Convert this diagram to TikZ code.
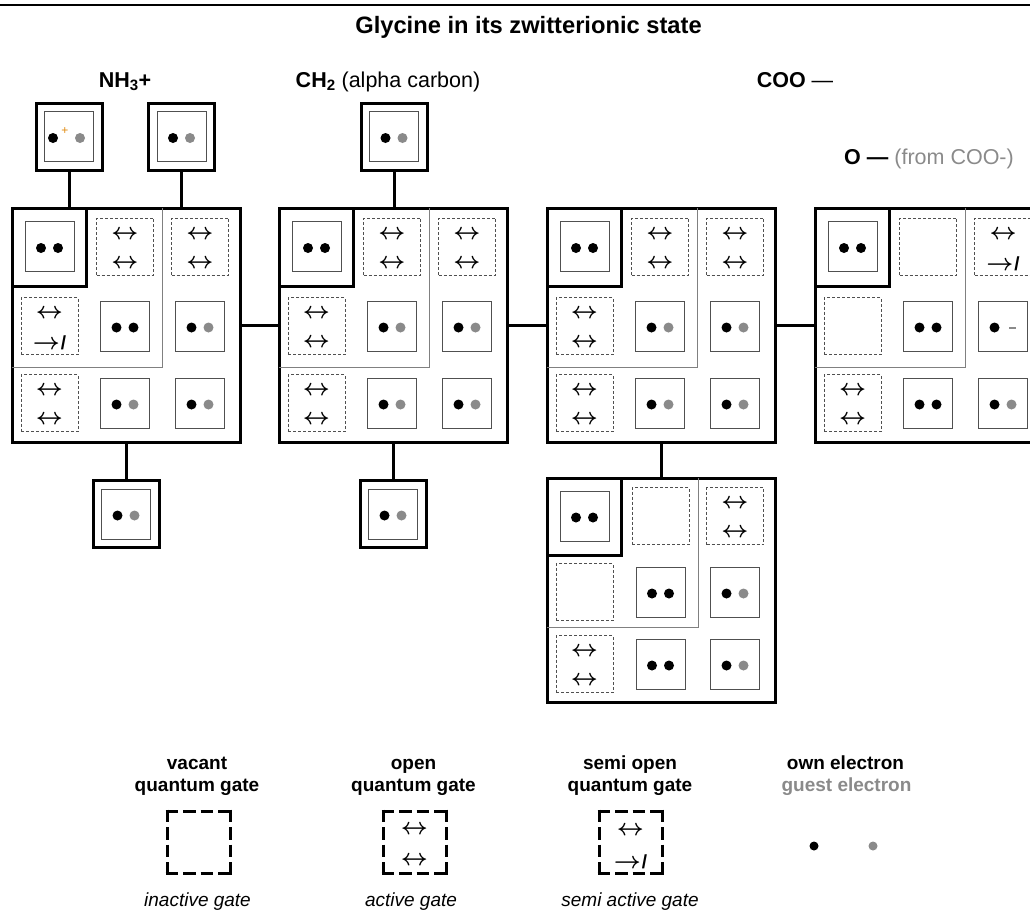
\RequirePackage{fix-cm}
\documentclass[tikz,border=0pt]{standalone}
\usepackage{fontspec}
\setmainfont{Liberation Sans}
\definecolor{guestgray}{HTML}{8A8A8A}
\definecolor{cellgray}{HTML}{505050}
\definecolor{sepgray}{HTML}{808080}
\definecolor{plusorange}{HTML}{E08A10}
\tikzset{
  blockbox/.style={draw=black, line width=3pt, minimum width=228pt, minimum height=234pt, inner sep=0pt, outer sep=0pt},
  blockboxs/.style={blockbox, minimum height=224pt},
  cornerbox/.style={draw=black, line width=3pt, minimum width=74pt, minimum height=78pt, inner sep=0pt, outer sep=0pt},
  solidcell/.style={draw=cellgray, line width=0.9pt, minimum width=49pt, minimum height=50pt, inner sep=0pt, outer sep=0pt},
  gatecell/.style={draw=cellgray, line width=0.8pt, dash pattern=on 3pt off 2pt, minimum width=57pt, minimum height=57pt, inner sep=0pt, outer sep=0pt},
  atomframe/.style={draw=black, line width=3pt, minimum width=66pt, minimum height=67pt, inner sep=0pt, outer sep=0pt},
  bond/.style={draw=black, line width=3pt},
  sepline/.style={draw=sepgray, line width=0.9pt},
  arrowtext/.style={inner sep=0pt, font=\boldmath\fontsize{23.5}{25}\selectfont},
  legendframe/.style={minimum width=63pt, minimum height=62pt, inner sep=0pt, outer sep=0pt},
  legenddash/.style={draw=black, line width=3pt, dash pattern=on 12.6pt off 5pt},
  heading/.style={font=\bfseries\fontsize{21.5}{26}\selectfont, inner sep=0pt, anchor=base},
  legendhead/.style={font=\bfseries\fontsize{19}{22}\selectfont, inner sep=0pt, anchor=base},
  legendfoot/.style={font=\itshape\fontsize{19}{22}\selectfont, inner sep=0pt, anchor=base},
  edot/.style={circle, inner sep=0pt, minimum size=10pt},
}
\newcommand\semislash{\hspace{1pt}{\bfseries\fontsize{19}{19}\selectfont /}}
\newcommand\pairbox[4]{%
  \node[solidcell] (#1) at (#2,#3) {};
  \fill[black] ([xshift=-8.5pt,yshift=-1.5pt]#1.center) circle[radius=5pt];
  \fill[#4] ([xshift=8.5pt,yshift=-1.5pt]#1.center) circle[radius=5pt];}
\newcommand\minusbox[3]{%
  \node[solidcell] (#1) at (#2,#3) {};
  \fill[black] ([xshift=-8.5pt,yshift=-1.5pt]#1.center) circle[radius=5pt];
  \draw[guestgray, line width=2pt] ([xshift=6pt,yshift=-1.5pt]#1.center) -- ([xshift=13pt,yshift=-1.5pt]#1.center);}
\newcommand\opengate[3]{%
  \node[gatecell] (#1) at (#2,#3) {};
  \node[arrowtext] (#1-up) at ([yshift=12pt]#1.center) {$\leftrightarrow$};
  \node[arrowtext] (#1-dn) at ([yshift=-17pt]#1.center) {$\leftrightarrow$};}
\newcommand\semigate[3]{%
  \node[gatecell] (#1) at (#2,#3) {};
  \node[arrowtext] (#1-up) at ([yshift=12pt]#1.center) {$\leftrightarrow$};
  \node[arrowtext] (#1-dn) at ([yshift=-17pt]#1.center) {$\rightarrow$\semislash};}
\newcommand\vacantgate[3]{\node[gatecell] (#1) at (#2,#3) {};}
\newcommand\legendbox[3]{%
  \node[legendframe] (#1) at (#2,#3) {};
  \draw[legenddash] ([xshift=-1.5pt]#1.north west) -- ([xshift=1.5pt]#1.north east);
  \draw[legenddash] ([xshift=-1.5pt]#1.south west) -- ([xshift=1.5pt]#1.south east);
  \draw[legenddash] ([yshift=1.5pt]#1.north west) -- ([yshift=-1.5pt]#1.south west);
  \draw[legenddash] ([yshift=1.5pt]#1.north east) -- ([yshift=-1.5pt]#1.south east);}
\begin{document}
\begin{tikzpicture}[x=1pt, y=-1pt]
\path[use as bounding box] (0,0) rectangle (1030,911);
\clip (0,0) rectangle (1030,911);
% top rule
\coordinate (ruleL) at (0,5);
\coordinate (ruleR) at (1030,5);
\draw[line width=2pt] (ruleL) -- (ruleR);
% title and headings
\node[font=\bfseries\fontsize{23.7}{28}\selectfont, inner sep=0pt, anchor=base] (title) at (528.5,33) {Glycine in its zwitterionic state};
\node[heading] (hN) at (125,87) {NH\textsubscript{3}+};
\node[heading] (hC) at (388,87) {CH\textsubscript{2} \mdseries (alpha carbon)};
\node[heading] (hCOO) at (795,87) {COO \mdseries —};
\node[heading] (hO) at (929,164) {O — \mdseries\textcolor{guestgray}{(from COO-)}};

% ---------- block 1 : NH3+ ----------
\begin{scope}[shift={(12,208)}]
  \node[blockbox] (b1) at (114,117) {};
  \draw[sepline] (150,0) -- (150,159) -- (0,159);
  \node[cornerbox] (b1k) at (37,39) {};
  \pairbox{b1c11}{37.5}{38.5}{black}
  \opengate{b1c12}{113}{38.5}
  \opengate{b1c13}{188}{38.5}
  \semigate{b1c21}{37.5}{118}
  \pairbox{b1c22}{113}{118}{black}
  \pairbox{b1c23}{188}{118}{guestgray}
  \opengate{b1c31}{37.5}{195}
  \pairbox{b1c32}{113}{195}{guestgray}
  \pairbox{b1c33}{188}{195}{guestgray}
\end{scope}
% ---------- block 2 : CH2 ----------
\begin{scope}[shift={(279,208)}]
  \node[blockbox] (b2) at (114,117) {};
  \draw[sepline] (150,0) -- (150,159) -- (0,159);
  \node[cornerbox] (b2k) at (37,39) {};
  \pairbox{b2c11}{37.5}{38.5}{black}
  \opengate{b2c12}{113}{38.5}
  \opengate{b2c13}{188}{38.5}
  \opengate{b2c21}{37.5}{118}
  \pairbox{b2c22}{113}{118}{guestgray}
  \pairbox{b2c23}{188}{118}{guestgray}
  \opengate{b2c31}{37.5}{195}
  \pairbox{b2c32}{113}{195}{guestgray}
  \pairbox{b2c33}{188}{195}{guestgray}
\end{scope}
% ---------- block 3 : C of COO ----------
\begin{scope}[shift={(547,208)}]
  \node[blockbox] (b3) at (114,117) {};
  \draw[sepline] (150,0) -- (150,159) -- (0,159);
  \node[cornerbox] (b3k) at (37,39) {};
  \pairbox{b3c11}{37.5}{38.5}{black}
  \opengate{b3c12}{113}{38.5}
  \opengate{b3c13}{188}{38.5}
  \opengate{b3c21}{37.5}{118}
  \pairbox{b3c22}{113}{118}{guestgray}
  \pairbox{b3c23}{188}{118}{guestgray}
  \opengate{b3c31}{37.5}{195}
  \pairbox{b3c32}{113}{195}{guestgray}
  \pairbox{b3c33}{188}{195}{guestgray}
\end{scope}
% ---------- block 4 : O- ----------
\begin{scope}[shift={(815,208)}]
  \node[blockbox] (b4) at (114,117) {};
  \draw[sepline] (150,0) -- (150,159) -- (0,159);
  \node[cornerbox] (b4k) at (37,39) {};
  \pairbox{b4c11}{37.5}{38.5}{black}
  \vacantgate{b4c12}{113}{38.5}
  \semigate{b4c13}{188}{38.5}
  \vacantgate{b4c21}{37.5}{118}
  \pairbox{b4c22}{113}{118}{black}
  \minusbox{b4c23}{188}{118}
  \opengate{b4c31}{37.5}{195}
  \pairbox{b4c32}{113}{195}{black}
  \pairbox{b4c33}{188}{195}{guestgray}
\end{scope}
% ---------- block 5 : O of COO ----------
\begin{scope}[shift={(547,478)}]
  \node[blockboxs] (b5) at (114,112) {};
  \draw[sepline] (151,0) -- (151,149) -- (0,149);
  \node[cornerbox, minimum height=77pt] (b5k) at (37,38.5) {};
  \pairbox{b5c11}{37.5}{38}{black}
  \vacantgate{b5c12}{113.5}{38}
  \opengate{b5c13}{188}{38}
  \vacantgate{b5c21}{37.5}{114}
  \pairbox{b5c22}{113.5}{114}{black}
  \pairbox{b5c23}{188}{114}{guestgray}
  \opengate{b5c31}{37.5}{186}
  \pairbox{b5c32}{113.5}{186}{black}
  \pairbox{b5c33}{188}{186}{guestgray}
\end{scope}

% ---------- hydrogen boxes ----------
\node[atomframe] (h1) at (69,136.5) {};
\node[solidcell] (h1i) at (69,136.5) {};
\node[edot, fill=black] (h1a) at (53,138) {};
\node[inner sep=0pt, text=plusorange, font=\fontsize{12}{12}\selectfont] (h1p) at (65,131) {+};
\node[edot, fill=guestgray] (h1b) at (80,138) {};
\node[atomframe] (h2) at (181.5,136.5) {};
\pairbox{h2i}{181.5}{136.5}{guestgray}
\node[atomframe] (h3) at (394,136.5) {};
\pairbox{h3i}{394}{136.5}{guestgray}
\node[atomframe] (h4) at (126,514) {};
\pairbox{h4i}{126}{514}{guestgray}
\node[atomframe] (h5) at (393,514) {};
\pairbox{h5i}{393}{514}{guestgray}

% ---------- bonds ----------
\draw[bond] (h1.south) -- (h1.south |- b1.north);
\draw[bond] (h2.south) -- (h2.south |- b1.north);
\draw[bond] (h3.south) -- (h3.south |- b2.north);
\draw[bond] (b1.south) -- (h4.north);
\draw[bond] (b2.south) -- (h5.north);
\draw[bond] (b1.east) -- (b2.west);
\draw[bond] (b2.east) -- (b3.west);
\draw[bond] (b3.east) -- (b4.west);
\draw[bond] (b3.south) -- (b5.north);

% ---------- legend ----------
\node[legendhead] (lv1) at (197,769) {vacant};
\node[legendhead] (lv2) at (197,791.5) {quantum gate};
\legendbox{lvbox}{198.5}{842}
\node[legendfoot] (lv3) at (197.5,906) {inactive gate};

\node[legendhead] (lo1) at (413.5,769) {open};
\node[legendhead] (lo2) at (413.5,791.5) {quantum gate};
\legendbox{lobox}{414.5}{842}
\node[arrowtext] (loa) at ([yshift=12pt]lobox.center) {$\leftrightarrow$};
\node[arrowtext] (lob) at ([yshift=-19pt]lobox.center) {$\leftrightarrow$};
\node[legendfoot] (lo3) at (411,906) {active gate};

\node[legendhead] (ls1) at (630,769) {semi open};
\node[legendhead] (ls2) at (630,791.5) {quantum gate};
\legendbox{lsbox}{630.5}{842}
\node[arrowtext] (lsa) at ([yshift=11pt]lsbox.center) {$\leftrightarrow$};
\node[arrowtext] (lsb) at ([yshift=-20pt]lsbox.center) {$\rightarrow$\semislash};
\node[legendfoot] (ls3) at (630,906) {semi active gate};

\node[legendhead] (le1) at (845.5,769) {own electron};
\node[legendhead, text=guestgray] (le2) at (846.5,791.5) {guest electron};
\node[edot, fill=black, minimum size=9pt] (leo) at (814,846) {};
\node[edot, fill=guestgray, minimum size=9pt] (leg) at (873,846) {};
\end{tikzpicture}
\end{document}
